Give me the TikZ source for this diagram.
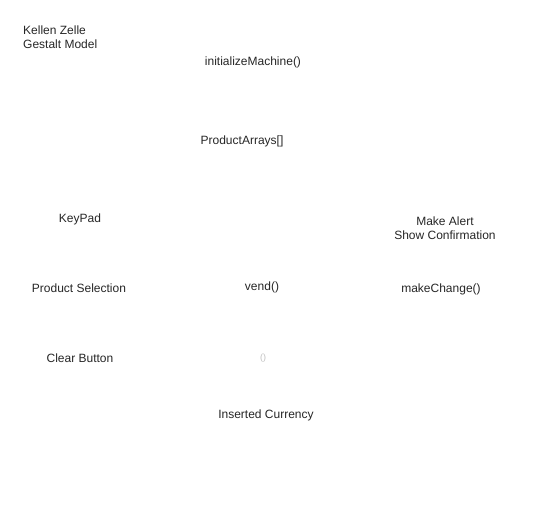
\documentclass[tikz,border=0pt]{standalone}
\usepackage{fontspec}
\setmainfont{Liberation Sans}
\usepackage{tikz}
\usetikzlibrary{positioning}

\begin{document}
\begin{tikzpicture}[
  x=1pt,y=-1pt,
  font=\fontsize{12}{14.5}\selectfont,
  item/.style={inner sep=0pt,align=center,text=black!85},
  faint/.style={inner sep=0pt,font=\fontsize{9}{10}\selectfont,text=black!25},
]

  % Page frame of the model.
  \useasboundingbox (0,0) rectangle (550,521);

  % Title block, top left.
  \node[item,align=left,anchor=west] (title) at (23,37) {Kellen Zelle\\Gestalt Model};

  % Machine set-up.
  \node[item] (init) at (253,62) {initializeMachine()};
  \node[item] (arrays) at (242,141) {ProductArrays[]};

  % Input side.
  \node[item] (keypad) at (80,219) {KeyPad};
  \node[item] (select) at (79,288) {Product Selection};
  \node[item] (clear) at (80,358) {Clear Button};

  % Core and output side.
  \node[item] (vend) at (262,287) {vend()};
  \node[faint] (empty) at (263,358) {()};
  \node[item] (alert) at (445,228) {Make Alert\\Show Confirmation};
  \node[item] (change) at (441,289) {makeChange()};

  % Money in.
  \node[item] (currency) at (266,415) {Inserted Currency};

\end{tikzpicture}
\end{document}
